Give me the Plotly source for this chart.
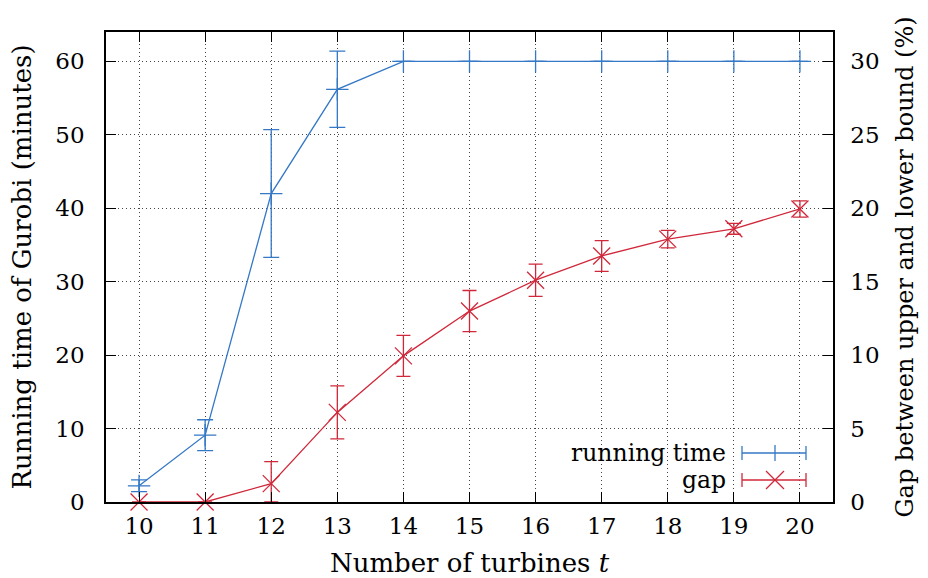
import plotly.graph_objects as go

# Number of turbines
turbines = [10, 11, 12, 13, 14, 15, 16, 17, 18, 19, 20]

# Gurobi running time (minutes) with standard deviation
run_time = [2.2, 9.1, 42.0, 56.2, 60, 60, 60, 60, 60, 60, 60]
run_time_err = [0.8, 2.1, 8.7, 5.2, 0, 0, 0, 0, 0, 0, 0]

# Gap between upper and lower bound (%) with standard deviation
gap = [0.0, 0.0, 1.25, 6.1, 9.95, 13.0, 15.1, 16.75, 17.9, 18.6, 19.95]
gap_err = [0.0, 0.0, 1.5, 1.8, 1.4, 1.4, 1.1, 1.05, 0.6, 0.37, 0.55]
gap_err_minus = [min(e, v) for e, v in zip(gap_err, gap)]

left_ticks = [0, 10, 20, 30, 40, 50, 60]
right_ticks = [0, 5, 10, 15, 20, 25, 30]

BLUE = "#3478c6"
RED = "#d0283a"
FONT = "DejaVu Serif, Liberation Serif, Noto Serif, serif"
FS_TICK = 23
FS_TITLE = 26
FS_TITLE_R = 24
FS_KEY = 23.5

W, H = 928, 578
ML, MR, MT, MB = 106, 95, 32, 76
PW, PH = W - ML - MR, H - MT - MB

fig = go.Figure()

fig.add_trace(go.Scatter(
    x=turbines, y=run_time, name="running time", mode="lines+markers",
    line=dict(color=BLUE, width=1.3),
    marker=dict(symbol="cross-thin", size=16, line=dict(color=BLUE, width=1.3)),
    error_y=dict(type="data", array=run_time_err, color=BLUE, thickness=1.3, width=8),
    cliponaxis=False, showlegend=False,
))

fig.add_trace(go.Scatter(
    x=turbines, y=gap, name="gap", mode="lines+markers", yaxis="y2",
    line=dict(color=RED, width=1.3),
    marker=dict(symbol="x-thin", size=17, line=dict(color=RED, width=1.3)),
    error_y=dict(type="data", array=gap_err, arrayminus=gap_err_minus,
                 color=RED, thickness=1.3, width=7),
    cliponaxis=False, showlegend=False,
))


# Key in the lower-right corner: label on the left, sample on the right
def px_x(p):
    return (p - ML) / PW


def px_y(p):
    return (H - MB - p) / PH


shapes = []
annotations = []
key_rows = [("running time", BLUE, "plus", 453), ("gap", RED, "cross", 480)]
for label, color, kind, yc in key_rows:
    x0, x1, xm = 742, 806, 775
    ln = dict(color=color, width=1.3)
    shapes.append(dict(type="line", xref="paper", yref="paper",
                       x0=px_x(x0), x1=px_x(x1), y0=px_y(yc), y1=px_y(yc), line=ln))
    for xe in (x0, x1):
        shapes.append(dict(type="line", xref="paper", yref="paper",
                           x0=px_x(xe), x1=px_x(xe), y0=px_y(yc - 7), y1=px_y(yc + 7), line=ln))
    if kind == "plus":
        shapes.append(dict(type="line", xref="paper", yref="paper",
                           x0=px_x(xm), x1=px_x(xm), y0=px_y(yc - 8), y1=px_y(yc + 8), line=ln))
    else:
        shapes.append(dict(type="line", xref="paper", yref="paper",
                           x0=px_x(xm - 9), x1=px_x(xm + 9), y0=px_y(yc - 9), y1=px_y(yc + 9), line=ln))
        shapes.append(dict(type="line", xref="paper", yref="paper",
                           x0=px_x(xm - 9), x1=px_x(xm + 9), y0=px_y(yc + 9), y1=px_y(yc - 9), line=ln))
    annotations.append(dict(text=label, xref="paper", yref="paper",
                            x=px_x(727), y=px_y(yc), xanchor="right", yanchor="middle",
                            borderpad=0, showarrow=False,
                            font=dict(family=FONT, size=FS_KEY, color="black")))

grid = dict(showgrid=True, gridcolor="#444", gridwidth=1, griddash="1px,3px")
axis_common = dict(showline=True, linecolor="black", linewidth=1.5, automargin=False,
                   ticks="inside", ticklen=10, tickwidth=1.2, tickcolor="black",
                   tickfont=dict(family=FONT, size=FS_TICK, color="black"), zeroline=False)

fig.update_layout(
    width=W, height=H,
    margin=dict(l=ML, r=MR, t=MT, b=MB),
    paper_bgcolor="white", plot_bgcolor="white",
    font=dict(family=FONT, size=FS_TICK, color="black"),
    xaxis=dict(range=[9.5, 20.5], tickvals=turbines, mirror="ticks",
               title=dict(text="Number of turbines <i>t</i>", standoff=18,
                          font=dict(family=FONT, size=FS_TITLE)),
               ticklabelstandoff=3, **grid, **axis_common),
    yaxis=dict(range=[0, 64], tickvals=left_ticks, mirror=True,
               title=dict(text="Running time of Gurobi (minutes)", standoff=16,
                          font=dict(family=FONT, size=FS_TITLE)),
               ticklabelstandoff=15, **grid, **axis_common),
    yaxis2=dict(range=[0, 32], tickvals=right_ticks, overlaying="y", side="right",
                title=dict(text="Gap between upper and lower bound (%)", standoff=18,
                           font=dict(family=FONT, size=FS_TITLE_R)),
                ticklabelstandoff=11, showgrid=False, **axis_common),
    shapes=shapes, annotations=annotations,
)

fig.write_html("out.html")
